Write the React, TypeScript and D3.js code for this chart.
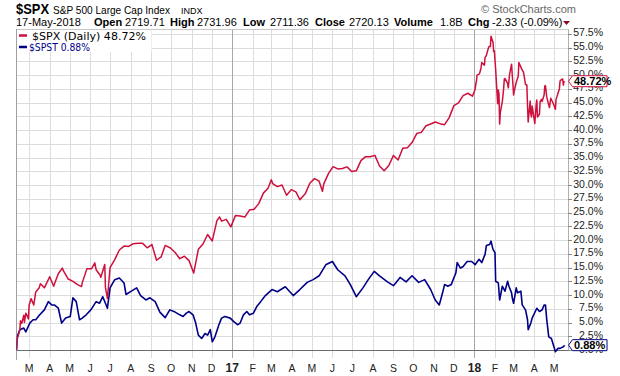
import React from 'react';
import * as d3 from 'd3';

const W = 620;
const H = 376;

const spxDates = [
  '2016-02-11','2016-02-12','2016-02-16','2016-02-17','2016-02-19','2016-02-22','2016-02-23','2016-02-25','2016-02-26','2016-02-29',
  '2016-03-01','2016-03-04','2016-03-08','2016-03-11','2016-03-16','2016-03-18','2016-03-24','2016-04-01','2016-04-07','2016-04-08',
  '2016-04-14','2016-04-20','2016-04-22','2016-04-29','2016-05-06','2016-05-13','2016-05-19','2016-05-20','2016-05-27','2016-06-03',
  '2016-06-08','2016-06-10','2016-06-16','2016-06-17','2016-06-23','2016-06-24','2016-06-27','2016-07-01','2016-07-08','2016-07-15',
  '2016-07-22','2016-07-29','2016-08-05','2016-08-12','2016-08-19','2016-08-26','2016-09-02','2016-09-09','2016-09-16','2016-09-22',
  '2016-09-30','2016-10-07','2016-10-14','2016-10-21','2016-10-28','2016-11-04','2016-11-11','2016-11-18','2016-11-25','2016-12-02',
  '2016-12-09','2016-12-13','2016-12-16','2016-12-23','2016-12-30',
  '2017-01-06','2017-01-13','2017-01-20','2017-01-27','2017-02-03','2017-02-10','2017-02-17','2017-02-24','2017-03-01','2017-03-03',
  '2017-03-10','2017-03-17','2017-03-24','2017-03-31','2017-04-07','2017-04-13','2017-04-21','2017-04-28','2017-05-05','2017-05-12',
  '2017-05-17','2017-05-19','2017-05-26','2017-06-02','2017-06-09','2017-06-16','2017-06-23','2017-06-30','2017-07-07','2017-07-14',
  '2017-07-21','2017-07-28','2017-08-04','2017-08-11','2017-08-18','2017-08-25','2017-09-01','2017-09-08','2017-09-15','2017-09-22',
  '2017-09-29','2017-10-06','2017-10-13','2017-10-20','2017-10-27','2017-11-03','2017-11-10','2017-11-17','2017-11-24','2017-12-01',
  '2017-12-08','2017-12-15','2017-12-22','2017-12-29',
  '2018-01-02','2018-01-03','2018-01-04','2018-01-05','2018-01-08','2018-01-09','2018-01-11','2018-01-12','2018-01-16','2018-01-17',
  '2018-01-19','2018-01-22','2018-01-23','2018-01-25','2018-01-26','2018-01-29','2018-01-30','2018-01-31','2018-02-02','2018-02-05',
  '2018-02-06','2018-02-07','2018-02-08','2018-02-09','2018-02-12','2018-02-14','2018-02-15','2018-02-16','2018-02-20','2018-02-21',
  '2018-02-23','2018-02-26','2018-02-27','2018-02-28','2018-03-01','2018-03-02','2018-03-05','2018-03-08','2018-03-09','2018-03-13',
  '2018-03-16','2018-03-19','2018-03-21','2018-03-22','2018-03-23','2018-03-26','2018-03-27','2018-03-28','2018-03-29','2018-04-02',
  '2018-04-03','2018-04-04','2018-04-05','2018-04-06','2018-04-09','2018-04-10','2018-04-12','2018-04-13','2018-04-16','2018-04-17',
  '2018-04-18','2018-04-20','2018-04-24','2018-04-26','2018-04-30','2018-05-02','2018-05-03','2018-05-04','2018-05-09','2018-05-10',
  '2018-05-11','2018-05-14','2018-05-15','2018-05-16','2018-05-17'
];
const spxValues = [
  0, 1.95, 3.62, 5.30, 4.85, 6.33, 5.02, 6.70, 6.50, 5.65,
  8.13, 9.34, 8.18, 10.56, 11.26, 12.05, 11.31, 13.32, 11.6, 11.95,
  13.87, 14.9, 14.35, 12.91, 12.47, 11.89, 11.54, 12.21, 14.76, 14.76,
  15.86, 14.60, 13.61, 13.24, 15.54, 11.39, 9.37, 14.97, 16.45, 18.19,
  18.91, 18.84, 19.34, 19.41, 19.40, 18.59, 19.19, 16.33, 16.95, 19.03,
  18.55, 17.75, 16.61, 17.06, 16.26, 14.00, 18.31, 19.29, 21.01, 19.84,
  23.53, 24.20, 23.45, 23.77, 22.40,
  24.49, 24.36, 24.18, 25.46, 25.61, 26.63, 28.54, 29.43, 30.99, 30.29,
  29.72, 30.03, 28.15, 29.18, 28.78, 27.33, 28.41, 30.35, 31.18, 30.72,
  28.87, 30.22, 32.08, 33.35, 32.95, 33.03, 33.31, 32.49, 32.59, 34.45,
  35.18, 35.15, 35.41, 33.47, 32.61, 33.57, 35.40, 34.57, 36.69, 36.80,
  37.74, 39.38, 39.59, 40.79, 41.11, 41.48, 41.18, 40.99, 42.28, 44.46,
  44.96, 46.29, 46.71, 46.17,
  47.4, 48.3, 48.9, 50.0, 50.2, 50.4, 51.3, 52.3, 51.8, 53.2,
  53.6, 54.9, 55.2, 55.2, 57.1, 56.0, 54.3, 54.4, 51.0, 44.8,
  47.3, 46.6, 41.1, 43.2, 45.2, 47.5, 49.3, 49.4, 48.5, 47.7,
  50.2, 52.0, 50.0, 48.4, 46.4, 47.1, 48.7, 49.8, 52.3, 51.2,
  50.5, 48.3, 48.2, 44.5, 41.5, 45.3, 42.9, 42.4, 44.4, 41.2,
  42.9, 44.6, 45.5, 42.4, 42.9, 45.2, 45.6, 45.2, 46.4, 48.0,
  48.1, 46.0, 44.1, 45.8, 44.8, 44.1, 43.8, 45.6, 47.5, 48.9,
  49.1, 49.3, 48.2, 48.8, 48.72
];

const spstDates = [
  '2016-02-11','2016-02-12','2016-02-16','2016-02-22','2016-02-25','2016-03-02','2016-03-07','2016-03-11','2016-03-17','2016-03-24',
  '2016-03-30','2016-04-04','2016-04-08','2016-04-14','2016-04-19','2016-04-25','2016-05-02','2016-05-06','2016-05-11','2016-05-16',
  '2016-05-20','2016-05-26','2016-06-02','2016-06-10','2016-06-15','2016-06-20','2016-06-27','2016-07-01','2016-07-08','2016-07-15',
  '2016-07-22','2016-07-25','2016-08-02','2016-08-10','2016-08-16','2016-08-24','2016-08-30','2016-09-07','2016-09-14','2016-09-22',
  '2016-09-29','2016-10-07','2016-10-14','2016-10-19','2016-10-24','2016-10-28','2016-11-03','2016-11-07','2016-11-11','2016-11-16',
  '2016-11-21','2016-11-25','2016-11-29','2016-12-02','2016-12-06','2016-12-12','2016-12-16','2016-12-21','2016-12-29',
  '2017-01-03','2017-01-09','2017-01-13','2017-01-18','2017-01-23','2017-01-27','2017-02-02','2017-02-07','2017-02-13','2017-02-20',
  '2017-03-02','2017-03-10','2017-03-22','2017-04-03','2017-04-13','2017-04-24','2017-05-03','2017-05-12','2017-05-22','2017-06-01',
  '2017-06-09','2017-06-20','2017-06-28','2017-07-07','2017-07-17','2017-07-25','2017-08-03','2017-08-11','2017-08-23','2017-09-01',
  '2017-09-11','2017-09-20','2017-09-29','2017-10-09','2017-10-18','2017-10-27','2017-11-03','2017-11-09','2017-11-14','2017-11-17',
  '2017-11-22','2017-11-27','2017-12-04','2017-12-06','2017-12-11','2017-12-15','2017-12-21','2017-12-28',
  '2018-01-02','2018-01-08','2018-01-12','2018-01-17','2018-01-19','2018-01-24','2018-01-26','2018-01-29','2018-02-01','2018-02-02',
  '2018-02-06','2018-02-08','2018-02-12','2018-02-16','2018-02-20','2018-02-22','2018-02-26','2018-02-27','2018-03-01','2018-03-05',
  '2018-03-07','2018-03-12','2018-03-14','2018-03-19','2018-03-22','2018-03-23','2018-03-27','2018-03-29','2018-04-05','2018-04-09',
  '2018-04-13','2018-04-16','2018-04-18','2018-04-20','2018-04-23','2018-04-27','2018-04-30','2018-05-03','2018-05-07','2018-05-10',
  '2018-05-15','2018-05-17'
];
const spstValues = [
  0, 2.4, 3.7, 4.0, 3.3, 4.9, 5.5, 5.5, 6.4, 7.3,
  8.8, 8.2, 8.2, 7.6, 4.9, 5.8, 6.1, 9.5, 8.8, 5.5,
  5.8, 6.4, 7.3, 8.8, 8.5, 9.7, 7.6, 11.3, 12.8, 13.1,
  12.2, 10.1, 10.7, 11.3, 9.9, 9.1, 9.5, 8.8, 6.9, 5.9,
  7.3, 6.9, 6.4, 6.1, 6.7, 7.0, 6.4, 4.9, 2.7, 2.1,
  3.0, 2.7, 3.7, 1.5, 2.4, 4.6, 5.8, 6.1, 5.8,
  5.2, 4.6, 4.9, 6.4, 7.0, 6.4, 6.7, 7.9, 8.8, 9.9,
  11.0, 10.6, 11.5, 9.9, 11.0, 12.3, 12.8, 13.5, 15.5, 16.1,
  14.6, 13.5, 11.9, 9.7, 11.3, 12.8, 14.3, 13.5, 12.4, 11.7,
  13.2, 12.4, 13.5, 12.3, 12.8, 11.0, 9.1, 8.2, 10.4, 11.9,
  11.6, 11.9, 14.0, 15.9, 14.9, 15.2, 16.1, 16.1,
  15.5, 16.5, 15.9, 17.4, 19.0, 19.2, 19.8, 18.3, 17.7, 12.5,
  12.2, 9.1, 11.6, 10.7, 12.5, 11.6, 10.4, 9.5, 8.5, 11.3,
  10.4, 10.7, 8.2, 7.3, 5.5, 3.7, 4.9, 5.8, 7.6, 7.0,
  7.3, 8.2, 8.2, 5.5, 2.4, 2.1, 0.9, -0.3, 0.3, 0.3,
  0.6, 0.88
];

const yTickValues = [0, 2.5, 5, 7.5, 10, 12.5, 15, 17.5, 20, 22.5, 25, 27.5, 30, 32.5, 35, 37.5, 40, 42.5, 45, 47.5, 50, 52.5, 55, 57.5];
const monthTickLabels = ['M','A','M','J','J','A','S','O','N','D','17','F','M','A','M','J','J','A','S','O','N','D','18','F','M','A','M'];

const spxLast = '48.72%';
const spstLast = '0.88%';

const FONT = '"Liberation Sans", Arial, sans-serif';
const LEGEND_FONT = '"DejaVu Sans", Verdana, sans-serif';
const RED = '#cf0f3c';
const BLUE = '#000088';

const parse = d3.timeParse('%Y-%m-%d');

export default function App() {
  const left = 16.5, right = 568, top = 29, bottom = 350;
  const x = d3.scaleTime()
    .domain([parse('2016-02-11') as Date, parse('2018-05-22') as Date])
    .range([left, right]);
  const y = d3.scaleLinear().domain([0, 58.4]).range([bottom, top]);

  const spx = spxDates.map((d, i) => ({ d: parse(d) as Date, v: spxValues[i] }));
  const spst = spstDates.map((d, i) => ({ d: parse(d) as Date, v: spstValues[i] }));
  const line = d3.line<{ d: Date; v: number }>().x(p => x(p.d)).y(p => y(p.v));

  const months = d3.timeMonth.range(new Date(2016, 2, 1), new Date(2018, 5, 1));

  const spxY = y(spxValues[spxValues.length - 1]) - 1;
  const spstY = y(spstValues[spstValues.length - 1]);

  const tag = (cy: number, color: string, label: string) => {
    const x0 = 568.5, x1 = 572.5, x2 = 607;
    const h = 5.5;
    return (
      <g>
        <path d={`M${x0},${cy} L${x1},${cy - h} L${x2},${cy - h} L${x2},${cy + h} L${x1},${cy + h} Z`} fill="#fff" stroke={color} strokeWidth={1} />
        <text x={x1 + 1.5} y={cy + 4} fontFamily={FONT} fontSize={11} fontWeight="bold" fill="#000">{label}</text>
      </g>
    );
  };

  return (
    <svg width={W} height={H} style={{ position: 'absolute', left: 0, top: 0, background: '#fff' }}>
      <defs>
        <clipPath id="plotclip"><rect x={left} y={top} width={right - left} height={bottom - top + 3} /></clipPath>
      </defs>
      <rect x={0} y={0} width={W} height={H} fill="#fff" />
      {/* horizontal grid */}
      {yTickValues.filter(v => v > 0).map(v => (
        <line key={'h' + v} x1={left} x2={right} y1={Math.round(y(v)) + 0.5} y2={Math.round(y(v)) + 0.5} stroke="#dcdcdc" strokeWidth={1} />
      ))}
      {/* vertical grid */}
      {months.map((m, i) => {
        const xx = Math.round(x(m)) + 0.5;
        const isYear = m.getMonth() === 0;
        return <line key={'v' + i} x1={xx} x2={xx} y1={top} y2={358} stroke={isYear ? '#a8a8a8' : '#dcdcdc'} strokeWidth={1} />;
      })}
      {/* border */}
      <line x1={left} x2={right} y1={top + 0.5} y2={top + 0.5} stroke="#c8c8c8" />
      <line x1={left} x2={left} y1={top} y2={360} stroke="#a0a0a0" />
      <line x1={right + 0.5} x2={right + 0.5} y1={top} y2={bottom} stroke="#b0b0b0" />
      <line x1={left} x2={right} y1={bottom + 0.5} y2={bottom + 0.5} stroke="#6a6a6a" strokeWidth={1.2} />

      {/* legend background */}
      <rect x={left + 1} y={top + 1} width={134} height={22} fill="#fff" />

      {/* series */}
      <g clipPath="url(#plotclip)">
        <path d={line(spst) || ''} fill="none" stroke={BLUE} strokeWidth={1.6} strokeLinejoin="round" />
        <path d={line(spx) || ''} fill="none" stroke={RED} strokeWidth={1.5} strokeLinejoin="round" />
      </g>

      {/* y axis labels */}
      {yTickValues.map(v => (
        <g key={'yl' + v}>
          <line x1={right} x2={572} y1={Math.round(y(v)) + 0.5} y2={Math.round(y(v)) + 0.5} stroke="#888" />
          <text x={603} y={y(v) + 2.5} textAnchor="end" fontFamily={FONT} fontSize={10.5} fill="#222">{v.toFixed(1)}%</text>
        </g>
      ))}

      {/* x axis labels */}
      {months.map((m, i) => {
        const lab = monthTickLabels[i];
        const bold = lab.length > 1;
        return (
          <text key={'xl' + i} x={x(m)} y={371.5} textAnchor="middle" fontFamily={FONT} fontSize={bold ? 12 : 10.5} fontWeight={bold ? 'bold' : 'normal'} fill="#222">{lab}</text>
        );
      })}

      {/* value tags */}
      {tag(spstY, BLUE, spstLast)}
      {tag(spxY, RED, spxLast)}

      {/* legend */}
      <line x1={19} x2={27} y1={35.5} y2={35.5} stroke={RED} strokeWidth={2.5} />
      <text x={32} y={39.5} fontFamily={LEGEND_FONT} fontSize={10.5} textLength={114} lengthAdjust="spacingAndGlyphs" fill="#000">$SPX (Daily) {spxLast}</text>
      <line x1={19} x2={27} y1={47} y2={47} stroke={BLUE} strokeWidth={2.5} />
      <text x={29} y={51} fontFamily={LEGEND_FONT} fontSize={10.5} textLength={61} lengthAdjust="spacingAndGlyphs" fill={BLUE}>$SPST {spstLast}</text>

      {/* header */}
      <text x={16} y={14} fontFamily={FONT} fontSize={14} fontWeight="bold" textLength={33} lengthAdjust="spacingAndGlyphs" fill="#000">$SPX</text>
      <text x={53} y={14} fontFamily={FONT} fontSize={11} textLength={117} lengthAdjust="spacingAndGlyphs" fill="#000">S&amp;P 500 Large Cap Index</text>
      <text x={181} y={13.5} fontFamily={FONT} fontSize={9} fill="#000">INDX</text>

      <text y={26} fontFamily={FONT} fontSize={11} fill="#000">
        <tspan x={16}>17-May-2018</tspan>
        <tspan x={94} fontWeight="bold">Open</tspan>
        <tspan x={125}>2719.71</tspan>
        <tspan x={170} fontWeight="bold">High</tspan>
        <tspan x={197}>2731.96</tspan>
        <tspan x={243} fontWeight="bold">Low</tspan>
        <tspan x={270}>2711.36</tspan>
        <tspan x={315} fontWeight="bold">Close</tspan>
        <tspan x={349}>2720.13</tspan>
        <tspan x={394} fontWeight="bold">Volume</tspan>
        <tspan x={440}>1.8B</tspan>
        <tspan x={468} fontWeight="bold">Chg</tspan>
        <tspan x={492}>-2.33 (-0.09%)</tspan>
      </text>
      <path d="M563,21 L570,21 L566.5,25 Z" fill="#8b0a2a" />
      <text x={481} y={13} fontFamily={FONT} fontSize={11} fill="#666">© StockCharts.com</text>
    </svg>
  );
}
